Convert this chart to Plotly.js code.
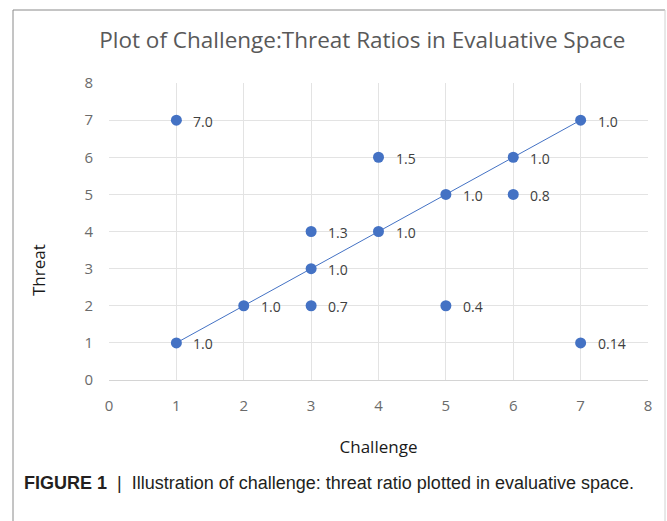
<!DOCTYPE html>
<html>
<head>
<meta charset="utf-8">
<script src="https://cdn.plot.ly/plotly-3.0.1.min.js"></script>
<style>
html,body{margin:0;padding:0;background:#fff;}
#chart{width:667px;height:521px;}
</style>
</head>
<body>
<div id="chart"></div>
<script>
// Data
const challenge = [1, 1, 2, 3, 3, 3, 4, 4, 5, 5, 6, 6, 7, 7];
const threat    = [7, 1, 2, 4, 3, 2, 6, 4, 5, 2, 6, 5, 7, 1];
const ratioLabels = ["7.0", "1.0", "1.0", "1.3", "1.0", "0.7", "1.5", "1.0", "1.0", "0.4", "1.0", "0.8", "1.0", "0.14"];
const lineX = [1, 7];
const lineY = [1, 7];
const xTicks = [0, 1, 2, 3, 4, 5, 6, 7, 8];
const yTicks = [0, 1, 2, 3, 4, 5, 6, 7, 8];

const blue = '#4472C4';
const W = 667, H = 521;
const L = 109, R = 19, T = 83, B = 141;
const pw = W - L - R, ph = H - T - B;
const px2x = p => (p - L) / pw;
const py2y = p => (H - B - p) / ph;

const traces = [
  {
    x: lineX, y: lineY, type: 'scatter', mode: 'lines',
    line: {color: blue, width: 1}, hoverinfo: 'skip', showlegend: false
  },
  {
    x: challenge, y: threat, type: 'scatter', mode: 'markers',
    marker: {color: blue, size: 11}, showlegend: false
  }
];

const annotations = challenge.map((c, i) => ({
  x: c, y: threat[i], xref: 'x', yref: 'y', text: ratioLabels[i],
  showarrow: false, xanchor: 'left', yanchor: 'middle', xshift: 15, yshift: -1,
  font: {family: 'Open Sans, sans-serif', size: 14, color: '#404040'}
}));

// Y axis title (placed as in the reference, below the plot centre)
annotations.push({
  xref: 'paper', yref: 'paper', x: px2x(38), y: py2y(270), xanchor: 'center', yanchor: 'middle',
  showarrow: false, textangle: -90, text: 'Threat',
  font: {family: 'Open Sans, sans-serif', size: 17, color: '#1a1a1a'}
});

// Figure caption
annotations.push({
  xref: 'paper', yref: 'paper', x: px2x(22), y: py2y(483), xanchor: 'left', yanchor: 'middle',
  showarrow: false,
  text: '<b>FIGURE 1</b>  |  Illustration of challenge: threat ratio plotted in evaluative space.',
  font: {family: 'Liberation Sans Narrow, Liberation Sans, Arial, sans-serif', size: 18, color: '#231f20'}
});

const frameColor = '#8a8a8a';
const shapes = [
  {type: 'line', xref: 'paper', yref: 'paper', x0: px2x(13), x1: px2x(665), y0: py2y(10), y1: py2y(10), line: {color: frameColor, width: 1}},
  {type: 'line', xref: 'paper', yref: 'paper', x0: px2x(13), x1: px2x(13), y0: py2y(10), y1: py2y(530), line: {color: frameColor, width: 1}},
  {type: 'line', xref: 'paper', yref: 'paper', x0: px2x(665), x1: px2x(665), y0: py2y(10), y1: py2y(530), line: {color: '#d0d0d0', width: 1}}
];

const layout = {
  width: W, height: H,
  margin: {l: L, r: R, t: T, b: B},
  paper_bgcolor: '#fff', plot_bgcolor: '#fff',
  title: {
    text: 'Plot of Challenge:Threat Ratios in Evaluative Space',
    x: 0.47, xref: 'paper', xanchor: 'center',
    y: 1 - 40/521, yref: 'container', yanchor: 'middle',
    font: {family: 'Open Sans, sans-serif', size: 22.5, color: '#595959'}
  },
  xaxis: {
    range: [0, 8], tickvals: xTicks, ticktext: xTicks.map(String),
    showgrid: true, gridcolor: '#e3e3e3', gridwidth: 1,
    zeroline: false, showline: true, linecolor: '#d4d4d4', linewidth: 1,
    ticks: 'outside', ticklen: 12, tickcolor: 'rgba(0,0,0,0)',
    tickfont: {family: 'Open Sans, sans-serif', size: 15, color: '#6b6b6b'},
    title: {text: 'Challenge', standoff: 27, font: {family: 'Open Sans, sans-serif', size: 17, color: '#1a1a1a'}},
    fixedrange: true
  },
  yaxis: {
    range: [0, 8], tickvals: yTicks, ticktext: yTicks.map(String),
    showgrid: true, gridcolor: '#e3e3e3', gridwidth: 1,
    zeroline: false, showline: false,
    ticks: 'outside', ticklen: 12, tickcolor: 'rgba(0,0,0,0)',
    tickfont: {family: 'Open Sans, sans-serif', size: 15, color: '#6b6b6b'},
    fixedrange: true
  },
  annotations: annotations,
  shapes: shapes,
  showlegend: false
};

Plotly.newPlot('chart', traces, layout, {displayModeBar: false, staticPlot: true});
</script>
</body>
</html>
